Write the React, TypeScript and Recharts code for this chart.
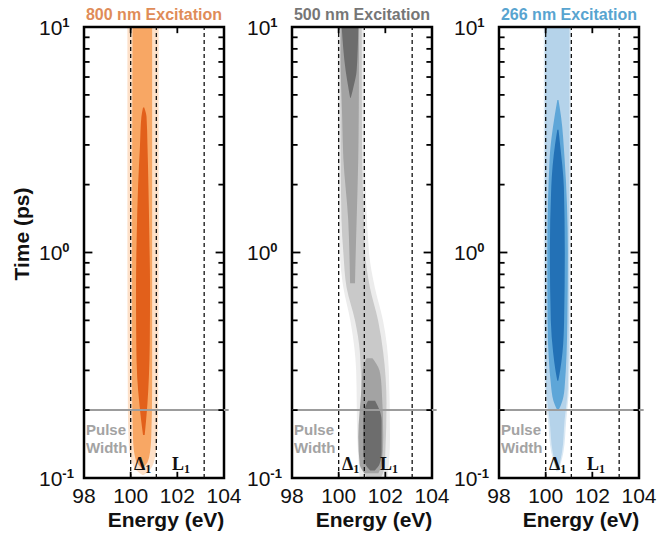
import React from 'react';
import { ComposedChart, Area, XAxis, YAxis, ReferenceLine, ReferenceArea } from 'recharts';

type Row = [number, number, number]; // [time ps, low energy eV, high energy eV]

const energyTicks = [98, 100, 102, 104];
const innerEnergyTicks = [100, 102];
const timeTicks = [0.1, 1, 10];
const minorTimeTicks = [0.2, 0.3, 0.4, 0.5, 0.6, 0.7, 0.8, 0.9, 2, 3, 4, 5, 6, 7, 8, 9];
const edgeLines = [100, 101.1, 103.15];
const pulseWidth = 0.2;
const panelTitles = ['800 nm Excitation', '500 nm Excitation', '266 nm Excitation'];
const titleColors = ['#df8c58', '#767676', '#58a4d0'];

// 800 nm contours
const ex800Halo: Row[] = [
  [10, 99.86, 101.2], [1, 99.86, 101.2], [0.2, 99.88, 101.18], [0.14, 99.92, 101.12],
  [0.118, 100.05, 101.0], [0.108, 100.25, 100.8], [0.103, 100.5, 100.56],
];
const ex800Mid: Row[] = [
  [10, 100.08, 100.92], [1, 100.06, 100.92], [0.25, 100.06, 100.92], [0.15, 100.1, 100.88],
  [0.125, 100.18, 100.8], [0.115, 100.32, 100.66], [0.111, 100.47, 100.52],
];
const ex800Core: Row[] = [
  [4.4, 100.53, 100.58], [4.0, 100.46, 100.68], [3.0, 100.4, 100.72], [2.0, 100.32, 100.76],
  [1.2, 100.26, 100.8], [0.7, 100.23, 100.83], [0.4, 100.24, 100.82], [0.28, 100.28, 100.78],
  [0.215, 100.37, 100.72], [0.18, 100.45, 100.66], [0.155, 100.53, 100.6],
];

// 500 nm contours
const ex500Halo: Row[] = [
  [10, 99.95, 101.1], [3, 99.97, 101.12], [1.0, 100.05, 101.3], [0.7, 100.2, 101.55],
  [0.5, 100.5, 101.9], [0.3, 100.75, 102.15], [0.15, 100.8, 102.2], [0.1, 100.9, 102.1],
];
const ex500Light: Row[] = [
  [10, 100.06, 100.99], [3, 100.08, 101.0], [1.4, 100.12, 101.08], [1.0, 100.2, 101.13],
  [0.7, 100.34, 101.34], [0.5, 100.7, 101.69], [0.36, 100.91, 101.91], [0.215, 100.98, 102.05],
  [0.13, 100.98, 102.0], [0.11, 101.05, 101.95], [0.1, 101.2, 101.8],
];
const ex500MidUpper: Row[] = [
  [10, 100.08, 100.87], [7.6, 100.08, 100.87], [4, 100.15, 100.86], [2.62, 100.2, 100.84],
  [1.39, 100.41, 100.77], [0.9, 100.47, 100.72], [0.73, 100.49, 100.7],
];
const ex500MidLower: Row[] = [
  [0.34, 101.2, 101.45], [0.3, 101.02, 101.75], [0.252, 100.98, 101.84], [0.152, 100.84, 101.91],
  [0.115, 100.9, 101.85], [0.105, 101.1, 101.7],
];
const ex500DarkUpper: Row[] = [
  [10, 100.13, 100.84], [6.4, 100.3, 100.77], [5.5, 100.4, 100.65], [4.85, 100.49, 100.52],
];
const ex500DarkLower: Row[] = [
  [0.22, 101.26, 101.56], [0.2, 101.1, 101.75], [0.18, 101.06, 101.84], [0.13, 101.06, 101.84],
  [0.115, 101.15, 101.75], [0.108, 101.35, 101.55],
];

// 266 nm contours
const ex266Halo: Row[] = [
  [10, 99.92, 101.08], [0.5, 99.92, 101.06], [0.25, 99.96, 101.0], [0.18, 100.1, 100.88],
  [0.13, 100.24, 100.76], [0.107, 100.45, 100.55],
];
const ex266Light: Row[] = [
  [10, 99.98, 101.02], [0.5, 99.98, 101.0], [0.25, 100.02, 100.95], [0.18, 100.17, 100.81],
  [0.13, 100.3, 100.7], [0.11, 100.45, 100.55],
];
const ex266Mid: Row[] = [
  [4.75, 100.5, 100.55], [4.0, 100.38, 100.66], [2.62, 100.17, 100.81], [1.0, 100.07, 100.95],
  [0.5, 100.08, 100.93], [0.25, 100.24, 100.81], [0.21, 100.4, 100.65], [0.2, 100.5, 100.55],
];
const ex266Dark: Row[] = [
  [3.5, 100.5, 100.55], [3.0, 100.4, 100.62], [1.95, 100.24, 100.78], [1.0, 100.18, 100.82],
  [0.5, 100.22, 100.79], [0.36, 100.32, 100.72], [0.3, 100.42, 100.62], [0.27, 100.5, 100.54],
];

type Contour = { rows: Row[]; color: string };

const panels: { contours: Contour[] }[] = [
  {
    contours: [
      { rows: ex800Halo, color: '#fde0c8' },
      { rows: ex800Mid, color: '#f8a764' },
      { rows: ex800Core, color: '#e2601b' },
    ],
  },
  {
    contours: [
      { rows: ex500Halo, color: '#ececec' },
      { rows: ex500Light, color: '#c9c9c9' },
      { rows: ex500MidUpper, color: '#a3a3a3' },
      { rows: ex500MidLower, color: '#a3a3a3' },
      { rows: ex500DarkUpper, color: '#6d6d6d' },
      { rows: ex500DarkLower, color: '#6d6d6d' },
    ],
  },
  {
    contours: [
      { rows: ex266Halo, color: '#dbe9f4' },
      { rows: ex266Light, color: '#b5d3ea' },
      { rows: ex266Mid, color: '#5ea6d8' },
      { rows: ex266Dark, color: '#2371b6' },
    ],
  },
];

const plotLefts = [84, 292, 499];
const PLOT_W = 140;
const PLOT_TOP = 27;
const PLOT_BOTTOM = 478;
const CHART_W = 260;
const CHART_H = 538;
const SANS = '"Liberation Sans", Arial, sans-serif';
const SERIF = '"Liberation Serif", "Times New Roman", serif';

// inner tick lengths expressed in axis units
const MINOR_DX = 0.24;
const MAJOR_DX = 0.36;
const X_TICK_FACTOR = 1.065;

const toData = (rows: Row[]) => rows.map(([t, lo, hi]) => ({ t, r: [lo, hi] }));

const expOf = (v: number) => String(Math.round(Math.log10(v)));

const PowTick = (props: any) => {
  const { x, y, payload } = props;
  return (
    <text x={x - 45} y={y + 7.5} textAnchor="start" fontFamily={SANS} fontSize={21} fill="#111">
      10
      <tspan dy={-8} fontSize={13} fontWeight="bold">{expOf(payload.value)}</tspan>
    </text>
  );
};

const Panel = ({ idx }: { idx: number }) => {
  const left = plotLefts[idx] - 84;
  return (
    <div style={{ position: 'absolute', left, top: 0 }}>
      <ComposedChart
        layout="vertical"
        width={CHART_W}
        height={CHART_H}
        margin={{ top: PLOT_TOP, right: CHART_W - 84 - PLOT_W, bottom: CHART_H - PLOT_BOTTOM - 30, left: 34 }}
      >
        <XAxis
          xAxisId="b"
          type="number"
          orientation="bottom"
          domain={[98, 104]}
          ticks={energyTicks}
          allowDataOverflow
          interval={0}
          height={30}
          axisLine={false}
          tickLine={false}
          tickSize={5}
          tickMargin={5}
          tick={{ fontSize: 21, fill: '#111', fontFamily: SANS }}
        />
        <YAxis
          yAxisId="l"
          dataKey="t"
          type="number"
          scale="log"
          domain={[0.1, 10]}
          allowDataOverflow
          reversed
          interval={0}
          ticks={timeTicks}
          width={50}
          axisLine={false}
          tickLine={false}
          tickSize={0}
          tickMargin={0}
          tick={(p: any) => <PowTick {...p} />}
        />
        {panels[idx].contours.map((c, i) => (
          <Area
            key={i}
            xAxisId="b"
            yAxisId="l"
            data={toData(c.rows)}
            dataKey="r"
            type="monotone"
            fill={c.color}
            fillOpacity={1}
            stroke="none"
            dot={false}
            activeDot={false}
            isAnimationActive={false}
          />
        ))}
        {edgeLines.map((x) => (
          <ReferenceLine key={x} xAxisId="b" yAxisId="l" x={x} stroke="#111" strokeDasharray="4 3" strokeWidth={1.3} />
        ))}
        <ReferenceLine
          xAxisId="b"
          yAxisId="l"
          segment={[{ x: 98, y: pulseWidth }, { x: 104.2, y: pulseWidth }]}
          ifOverflow="visible"
          stroke="#9c9c9c"
          strokeWidth={2}
        />
        <ReferenceArea xAxisId="b" yAxisId="l" x1={98} x2={104} y1={0.1} y2={10} fill="none" fillOpacity={0}
          stroke="#000" strokeWidth={2.5} ifOverflow="visible" />
        {minorTimeTicks.map((v) => (
          <ReferenceLine key={`lm${v}`} xAxisId="b" yAxisId="l" segment={[{ x: 98, y: v }, { x: 98 + MINOR_DX, y: v }]}
            stroke="#000" strokeWidth={1.8} ifOverflow="visible" />
        ))}
        {minorTimeTicks.map((v) => (
          <ReferenceLine key={`rm${v}`} xAxisId="b" yAxisId="l" segment={[{ x: 104 - MINOR_DX, y: v }, { x: 104, y: v }]}
            stroke="#000" strokeWidth={1.8} ifOverflow="visible" />
        ))}
        {timeTicks.map((v) => (
          <ReferenceLine key={`lM${v}`} xAxisId="b" yAxisId="l" segment={[{ x: 98, y: v }, { x: 98 + MAJOR_DX, y: v }]}
            stroke="#000" strokeWidth={1.8} ifOverflow="visible" />
        ))}
        {timeTicks.map((v) => (
          <ReferenceLine key={`rM${v}`} xAxisId="b" yAxisId="l" segment={[{ x: 104 - MAJOR_DX, y: v }, { x: 104, y: v }]}
            stroke="#000" strokeWidth={1.8} ifOverflow="visible" />
        ))}
        {innerEnergyTicks.map((e) => (
          <ReferenceLine key={`b${e}`} xAxisId="b" yAxisId="l" segment={[{ x: e, y: 0.1 }, { x: e, y: 0.1 * X_TICK_FACTOR }]}
            stroke="#000" strokeWidth={1.8} ifOverflow="visible" />
        ))}
        {innerEnergyTicks.map((e) => (
          <ReferenceLine key={`t${e}`} xAxisId="b" yAxisId="l" segment={[{ x: e, y: 10 / X_TICK_FACTOR }, { x: e, y: 10 }]}
            stroke="#000" strokeWidth={1.8} ifOverflow="visible" />
        ))}
      </ComposedChart>
    </div>
  );
};

export default function App() {
  return (
    <div style={{ position: 'absolute', left: 0, top: 0, width: 660, height: 538, background: '#fff', overflow: 'hidden' }}>
      {[0, 1, 2].map((i) => (
        <Panel key={i} idx={i} />
      ))}
      <svg width={660} height={538} style={{ position: 'absolute', left: 0, top: 0, pointerEvents: 'none' }}>
        {plotLefts.map((pl, i) => (
          <g key={i}>
            <text x={pl + PLOT_W / 2} y={20} textAnchor="middle" fontFamily={SANS} fontWeight="bold" fontSize={16} fill={titleColors[i]}>
              {panelTitles[i]}
            </text>
            <text x={pl + PLOT_W / 2 + 12} y={527} textAnchor="middle" fontFamily={SANS} fontWeight="bold" fontSize={21} fill="#111">
              Energy (eV)
            </text>
            <text x={pl + 2} y={435} fontFamily={SANS} fontWeight="bold" fontSize={15} fill="#a3a3a3">Pulse</text>
            <text x={pl + 2} y={453} fontFamily={SANS} fontWeight="bold" fontSize={15} fill="#a3a3a3">Width</text>
            <text x={pl + 50} y={470} fontFamily={SERIF} fontWeight="bold" fontSize={18} fill="#111">
              Δ<tspan fontSize={12} dy={3}>1</tspan>
            </text>
            <text x={pl + 88} y={470} fontFamily={SERIF} fontWeight="bold" fontSize={18} fill="#111">
              L<tspan fontSize={12} dy={3}>1</tspan>
            </text>
          </g>
        ))}
        <text x={0} y={0} transform="translate(29 234) rotate(-90)" textAnchor="middle" fontFamily={SANS} fontWeight="bold" fontSize={21} fill="#111">
          Time (ps)
        </text>
      </svg>
    </div>
  );
}
